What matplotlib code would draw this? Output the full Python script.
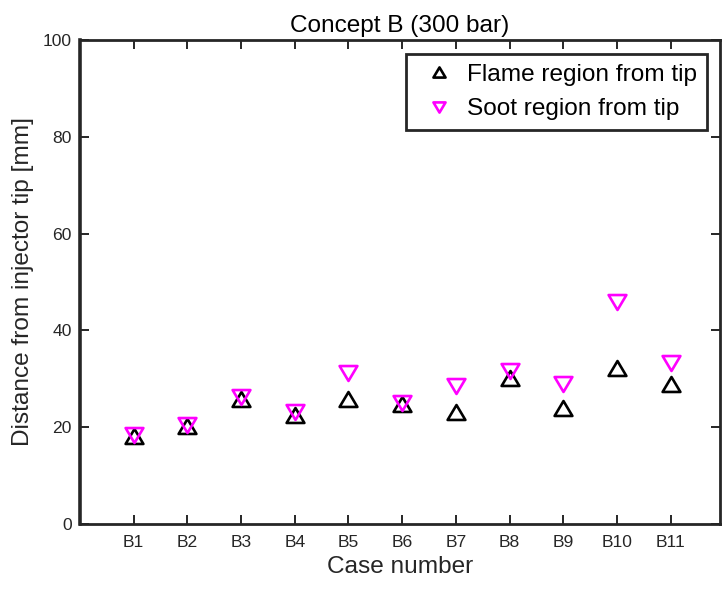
import matplotlib
matplotlib.use("Agg")
import matplotlib.pyplot as plt
from matplotlib.path import Path

plt.rcParams['font.family'] = ['Liberation Sans', 'DejaVu Sans']

# Case labels and measured distances from the injector tip [mm]
cases = ["B1", "B2", "B3", "B4", "B5", "B6", "B7", "B8", "B9", "B10", "B11"]
flame_dist = [18.2, 20.2, 25.9, 22.5, 25.9, 24.7, 23.2, 30.2, 24.0, 32.2, 28.9]
soot_dist = [18.3, 20.5, 26.3, 23.1, 31.3, 25.1, 28.6, 31.7, 29.0, 45.9, 33.2]
y_ticks = [0, 20, 40, 60, 80, 100]

# Slightly squat triangles (wider than tall)
tri_up = Path([(-1, -0.84), (1, -0.84), (0, 0.84), (-1, -0.84)],
              [Path.MOVETO, Path.LINETO, Path.LINETO, Path.CLOSEPOLY])
tri_down = Path([(-1, 0.84), (1, 0.84), (0, -0.84), (-1, 0.84)],
                [Path.MOVETO, Path.LINETO, Path.LINETO, Path.CLOSEPOLY])

axcol = "#262626"

fig = plt.figure(figsize=(7.24, 5.91), dpi=100)
ax = fig.add_axes([80 / 724, 1 - 524 / 591, (719.5 - 80) / 724, (524 - 40) / 591])

x = list(range(1, len(cases) + 1))
ax.plot(x, flame_dist, linestyle='none', marker=tri_up, ms=12.8,
        mfc='none', mec='black', mew=1.9, label='Flame region from tip')
ax.plot(x, soot_dist, linestyle='none', marker=tri_down, ms=12.8,
        mfc='none', mec='#FF00FF', mew=1.9, label='Soot region from tip')

ax.set_xlim(0, 11.91)
ax.set_ylim(0, 100)
ax.set_xticks(x)
ax.set_xticklabels(cases)
ax.set_yticks(y_ticks)

ax.tick_params(axis='both', direction='in', top=True, right=True,
               length=6.5, width=1.4, color=axcol, labelcolor=axcol,
               labelsize=12.6)
ax.tick_params(axis='y', pad=6)
ax.tick_params(axis='x', pad=8)

for side, sp in ax.spines.items():
    sp.set_color(axcol)
    sp.set_linewidth(2.0)
ax.spines['left'].set_linewidth(2.6)

ax.set_xlabel("Case number", fontsize=17.6, color=axcol, labelpad=4)
ax.set_ylabel("Distance from injector tip [mm]", fontsize=17.6, color=axcol, labelpad=6)
ax.set_title("Concept B (300 bar)", fontsize=17.6, color='black', pad=6)

leg = ax.legend(loc='upper right', bbox_to_anchor=(707 / 724, 1 - 54 / 591),
                bbox_transform=fig.transFigure, borderaxespad=0,
                fontsize=17.6, frameon=True, fancybox=False, markerscale=0.68,
                handlelength=1.9, handletextpad=0.2, borderpad=0.4,
                labelspacing=0.5)
leg.get_frame().set_edgecolor(axcol)
leg.get_frame().set_linewidth(2.0)
leg.get_frame().set_alpha(1)

fig.savefig("out.png", dpi=100)
